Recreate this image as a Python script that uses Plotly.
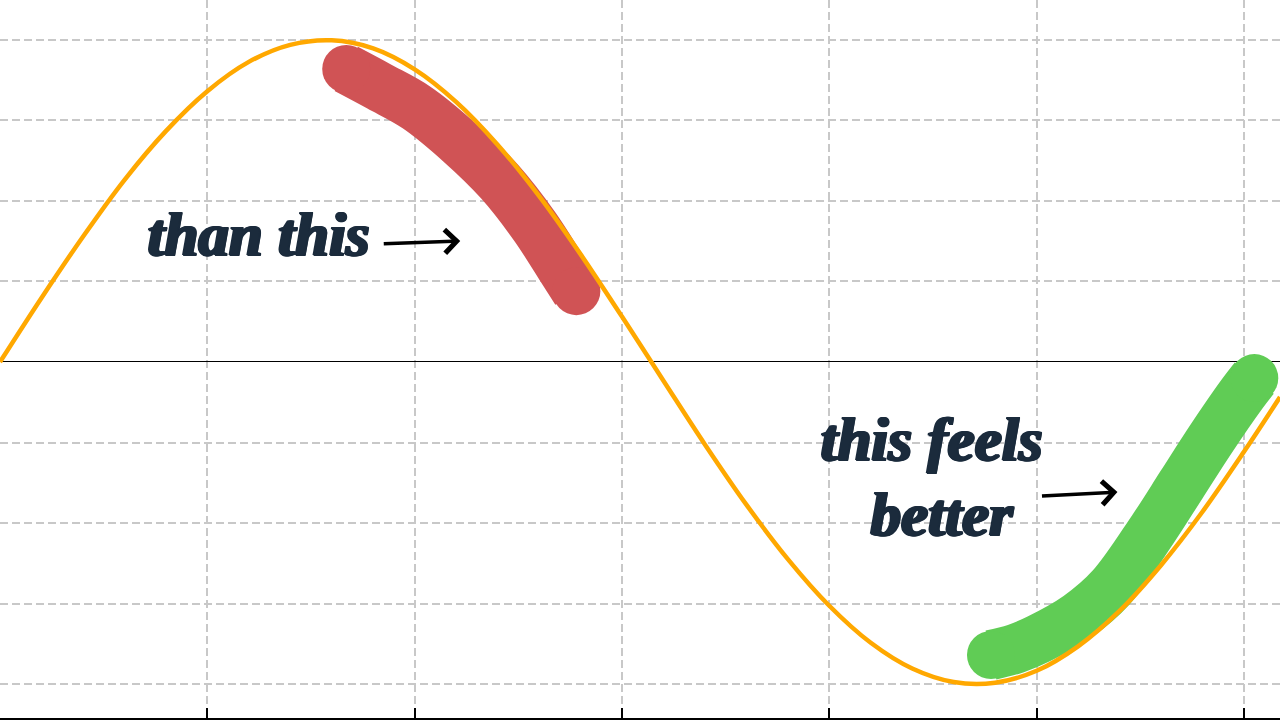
import plotly.graph_objects as go

# orange wave (x in grid units, y in grid units)
wave_x = [0, 0.2, 0.4, 0.6, 0.8, 1.0, 1.2, 1.4, 1.6, 1.8, 2.0, 2.2, 2.4, 2.6, 2.8, 3.0,
          3.2, 3.4, 3.6, 3.8, 4.0, 4.2, 4.4, 4.6, 4.8, 5.0, 5.2, 5.4, 5.6, 5.8, 6.0, 6.174]
wave_y = [0.000, 0.199, 0.389, 0.565, 0.717, 0.841, 0.932, 0.985, 0.999, 0.974, 0.909, 0.808,
          0.675, 0.516, 0.335, 0.141, -0.058, -0.256, -0.443, -0.612, -0.757, -0.872, -0.952,
          -0.994, -0.996, -0.959, -0.883, -0.773, -0.631, -0.465, -0.279, -0.109]

# red brush stroke ("than this")
red_x = [1.67, 1.83, 2.01, 2.22, 2.41, 2.58, 2.72, 2.78]
red_y = [0.91, 0.855, 0.79, 0.68, 0.56, 0.42, 0.28, 0.22]

# green brush stroke ("this feels better")
green_x = [4.78, 4.90, 5.01, 5.20, 5.36, 5.56, 5.70, 5.84, 5.99, 6.05]
green_y = [-0.91, -0.89, -0.86, -0.79, -0.70, -0.52, -0.38, -0.24, -0.10, -0.05]

x_ticks = [0, 1, 2, 3, 4, 5, 6]

text_color = "#1b2b3c"
font_name = "Liberation Serif"
thick = ", ".join(f"{dx}px {dy}px 0 {text_color}" for dx, dy in [(1, 0), (-1, 0), (0, 1), (1, 1), (2, 0), (2, 1)])


def brush(xs, ys, color):
    line = go.Scatter(x=xs, y=ys, mode="lines", line=dict(color=color, width=50, shape="spline"),
                      hoverinfo="skip")
    caps = go.Scatter(x=[xs[0], xs[-1]], y=[ys[0], ys[-1]], mode="markers",
                      marker=dict(size=48, color=color, opacity=1, line=dict(width=0)), hoverinfo="skip")
    return [line, caps]


fig = go.Figure()
fig.add_traces(brush(red_x, red_y, "#d05355"))
fig.add_traces(brush(green_x, green_y, "#60cc55"))
fig.add_trace(go.Scatter(x=wave_x, y=wave_y, mode="lines",
                         line=dict(color="#ffa800", width=4.5, shape="spline")))

# labels
lab_font = dict(family=font_name, size=61, color=text_color, shadow=thick)
fig.add_annotation(x=0.70, y=0.395, xref="x", yref="y", text="<b><i>than this</i></b>", showarrow=False,
                   xanchor="left", yanchor="middle", font=lab_font)
fig.add_annotation(x=4.49, y=-0.24, xref="x", yref="y", text="<b><i>this feels</i></b>", showarrow=False,
                   xanchor="center", yanchor="middle", font=lab_font)
fig.add_annotation(x=4.545, y=-0.475, xref="x", yref="y", text="<b><i>better</i></b>", showarrow=False,
                   xanchor="center", yanchor="middle", font=lab_font)

# arrows
fig.add_annotation(x=2.22, y=0.376, xref="x", yref="y", ax=-78, ay=3, text="", showarrow=True,
                   arrowhead=4, arrowsize=1.3, arrowwidth=3.5, arrowcolor="black")
fig.add_annotation(x=5.39, y=-0.404, xref="x", yref="y", ax=-77, ay=4, text="", showarrow=True,
                   arrowhead=4, arrowsize=1.3, arrowwidth=3.5, arrowcolor="black")

fig.update_xaxes(range=[0, 6.174], tickvals=x_ticks, showticklabels=False,
                 showgrid=True, gridcolor="#c8c8c8", gridwidth=1.5, griddash="8px,4px",
                 showline=True, linecolor="black", linewidth=2,
                 ticks="inside", ticklen=10, tickwidth=2, tickcolor="black", zeroline=False)
fig.update_yaxes(range=[-1.1056, 1.1242], dtick=0.25, tick0=0, showticklabels=False,
                 showgrid=True, gridcolor="#c8c8c8", gridwidth=1.5, griddash="8px,4px",
                 zeroline=True, zerolinecolor="black", zerolinewidth=1, showline=False)

fig.update_layout(width=1280, height=720, margin=dict(l=0, r=0, t=0, b=2),
                  plot_bgcolor="white", paper_bgcolor="white", showlegend=False)

fig.write_html("out.html", config={"displayModeBar": False},
               post_script="document.body.style.margin='0';")
